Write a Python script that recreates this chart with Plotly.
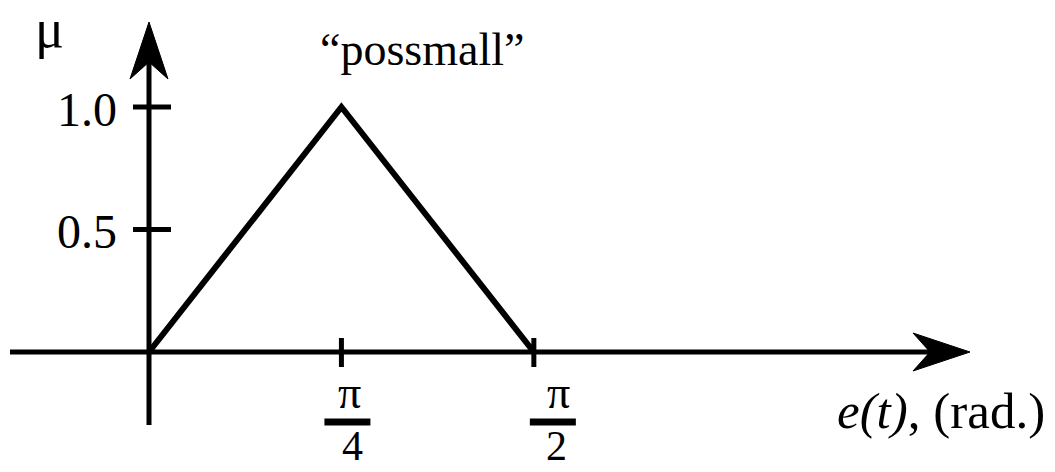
import math
import plotly.graph_objects as go

# Membership function "possmall" on e(t)
x_vals = [0.0, math.pi / 4, math.pi / 2]
mu_vals = [0.0, 1.0, 0.0]
set_name = "“possmall”"

# Axis ticks and labels
y_ticks = [0.5, 1.0]
y_tick_labels = ["0.5", "1.0"]
x_ticks = [math.pi / 4, math.pi / 2]
x_tick_num = ["π", "π"]
x_tick_den = ["4", "2"]

W, H = 1055, 472
S = 245.0          # pixels per data unit (both axes)
X0_PX, Y0_PX = 149, 352   # pixel position of origin


def dx(px):
    return px / S


x_range = [-X0_PX / S, (W - X0_PX) / S]
y_range = [-(H - Y0_PX) / S, Y0_PX / S]

FONT = "Liberation Serif, Times New Roman, serif"
INK = "black"
LW = 5

fig = go.Figure()
fig.add_trace(go.Scatter(x=x_vals, y=mu_vals, mode="lines",
                         line=dict(color=INK, width=6), hoverinfo="skip"))

shapes = []
ann = []

# axis lines
x_left, x_tip = dx(10 - X0_PX), dx(970 - X0_PX)
y_bot, y_tip = -dx(425 - Y0_PX), dx(Y0_PX - 22)
shapes.append(dict(type="line", x0=x_left, x1=x_tip - dx(30), y0=0, y1=0,
                   line=dict(color=INK, width=LW)))
shapes.append(dict(type="line", x0=0, x1=0, y0=y_bot, y1=y_tip - dx(30),
                   line=dict(color=INK, width=LW)))

# arrowheads (barbed)
L, B, N = dx(57), dx(19), dx(40)
shapes.append(dict(type="path", fillcolor=INK, line=dict(color=INK, width=1),
                   path=f"M {x_tip},0 L {x_tip-L},{B} L {x_tip-N},0 L {x_tip-L},{-B} Z"))
shapes.append(dict(type="path", fillcolor=INK, line=dict(color=INK, width=1),
                   path=f"M 0,{y_tip} L {B},{y_tip-L} L 0,{y_tip-N} L {-B},{y_tip-L} Z"))

# y ticks and labels
for v, lab in zip(y_ticks, y_tick_labels):
    shapes.append(dict(type="line", x0=dx(-16), x1=dx(22), y0=v, y1=v,
                       line=dict(color=INK, width=LW)))
    ann.append(dict(x=0, y=v, text=lab, showarrow=False, xanchor="right",
                    yanchor="middle", xshift=-30, yshift=-2,
                    font=dict(family=FONT, size=48, color=INK)))

# x ticks and fraction labels (pixel offsets of numerator, bar, denominator)
offsets = [(8, 6, 11), (25, 19, 23)]
for v, num, den, (sn, sb, sd) in zip(x_ticks, x_tick_num, x_tick_den, offsets):
    shapes.append(dict(type="line", x0=v, x1=v, y0=dx(14), y1=-dx(15),
                       line=dict(color=INK, width=LW)))
    shapes.append(dict(type="line", x0=v + dx(sb - 23), x1=v + dx(sb + 23),
                       y0=-dx(70), y1=-dx(70), line=dict(color=INK, width=7)))
    ann.append(dict(x=v, y=-dx(40), text=num, showarrow=False, xshift=sn,
                    xanchor="center", yanchor="middle",
                    font=dict(family=FONT, size=46, color=INK)))
    ann.append(dict(x=v, y=-dx(94), text=den, showarrow=False, xshift=sd,
                    xanchor="center", yanchor="middle",
                    font=dict(family=FONT, size=42, color=INK)))

# axis titles and set name
ann.append(dict(x=0, y=1, xref="x", yref="paper", text="μ", showarrow=False,
                xanchor="center", yanchor="top", xshift=-100, yshift=3,
                font=dict(family=FONT, size=54, color=INK)))
ann.append(dict(x=x_vals[1], y=1.0, text=set_name, showarrow=False,
                xanchor="center", yanchor="bottom", xshift=81, yshift=30,
                font=dict(family=FONT, size=46, color=INK)))
ann.append(dict(x=x_tip, y=0, text="<i>e(t)</i>, (rad.)", showarrow=False,
                xanchor="center", yanchor="middle", xshift=-29, yshift=-59,
                font=dict(family=FONT, size=51, color=INK)))

fig.update_layout(
    width=W, height=H,
    margin=dict(l=0, r=0, t=0, b=0),
    paper_bgcolor="white", plot_bgcolor="white",
    showlegend=False,
    xaxis=dict(range=x_range, visible=False, fixedrange=True),
    yaxis=dict(range=y_range, visible=False, fixedrange=True),
    shapes=shapes, annotations=ann,
)

fig.write_html("out.html")
